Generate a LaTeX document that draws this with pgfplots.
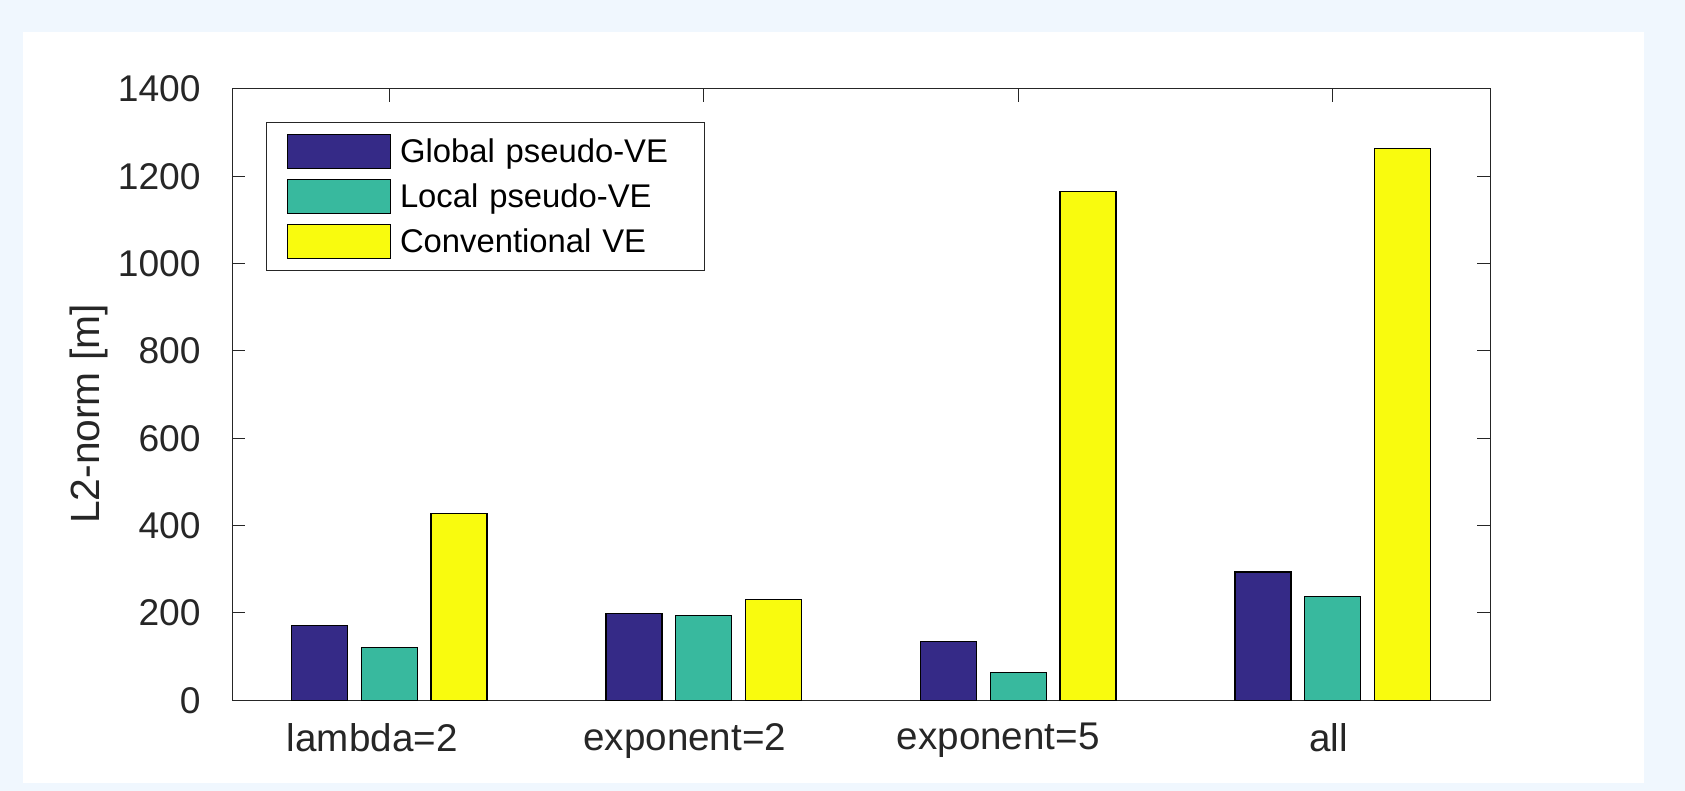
\documentclass[border=0pt]{standalone}
\usepackage{fontspec}
\setmainfont{Liberation Sans}
\usepackage{pgfplots}
\pgfplotsset{compat=1.18}
\definecolor{bgblue}{RGB}{240,247,254}
\definecolor{axgray}{RGB}{38,38,38}
\definecolor{cglob}{RGB}{53,42,135}
\definecolor{cloc}{RGB}{56,185,158}
\definecolor{cconv}{RGB}{249,251,14}
\pgfplotsset{mylegend/.style={legend image code/.code={\draw[##1,line width=0.6pt] (0pt,-8.35pt) rectangle (51.7pt,8.35pt);}}}
\begin{document}
\begin{tikzpicture}
\useasboundingbox (0,0) rectangle (842.5pt,395.5pt);
\fill[bgblue] (0,0) rectangle (842.5pt,395.5pt);
\fill[white] (11.5pt,4pt) rectangle (822pt,379.5pt);
\begin{axis}[
  at={(116pt,45.35pt)}, anchor=south west,
  scale only axis, width=629pt, height=305.65pt,
  xmin=0.5, xmax=4.5, ymin=0, ymax=1400,
  xtick={1,2,3,4},
  xticklabels={lambda=2\hspace*{17pt},exponent=2\hspace*{19pt},exponent=5\hspace*{20pt},all\hspace*{4pt}},
  ytick={0,200,400,600,800,1000,1200,1400},
  tick align=inside, major tick length=6.7pt,
  axis line style={axgray, line width=0.5pt},
  every tick/.style={axgray, line width=0.5pt},
  /pgf/number format/assume math mode=true,
  /pgf/number format/1000 sep={},
  tick label style={font=\fontsize{18.6}{22}\selectfont, text=axgray},
  yticklabel style={anchor=east, inner sep=0pt, xshift=-15.5pt},
  xticklabel style={anchor=north, inner sep=0pt, yshift=-11.2pt, font=\fontsize{19.3}{22}\selectfont},
  ylabel={L2-norm [m]},
  every axis y label/.style={at={(axis description cs:-0.1055,0.4684)}, rotate=90, anchor=base, font=\fontsize{20.4}{24}\selectfont, text=axgray},
  legend style={at={(0.0268,0.9465)}, anchor=north west, draw=axgray, line width=0.5pt, fill=white,
    inner xsep=10.2pt, inner ysep=6pt, row sep=5.2pt, column sep=4.4pt,
    font=\fontsize{16.4}{19}\selectfont,
    nodes={inner sep=0pt, text height=13pt, text depth=1.5pt, text width=142.2pt, align=left}},
  legend cell align=left,
]
\addplot[ybar, bar width=0.178, bar shift=-0.222, fill=cglob, draw=black, line width=0.6pt, mylegend]
  coordinates {(1,171) (2,198) (3,134) (4,294)};
\addlegendentry{Global pseudo-VE}
\addplot[ybar, bar width=0.178, bar shift=0, fill=cloc, draw=black, line width=0.6pt, mylegend]
  coordinates {(1,120) (2,195) (3,64) (4,238)};
\addlegendentry{Local pseudo-VE}
\addplot[ybar, bar width=0.178, bar shift=0.222, fill=cconv, draw=black, line width=0.6pt, mylegend]
  coordinates {(1,427) (2,230) (3,1165) (4,1263)};
\addlegendentry{Conventional VE}
\end{axis}
\end{tikzpicture}
\end{document}
